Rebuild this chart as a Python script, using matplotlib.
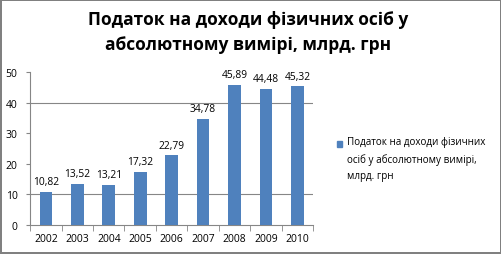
import matplotlib

matplotlib.use("Agg")
import matplotlib.pyplot as plt  # noqa: E402
import numpy as np  # noqa: E402
from matplotlib.patches import Rectangle  # noqa: E402

plt.rcParams["font.family"] = ["Open Sans", "DejaVu Sans"]

years = ["2002", "2003", "2004", "2005", "2006", "2007", "2008", "2009", "2010"]
values = [10.82, 13.52, 13.21, 17.32, 22.79, 34.78, 45.89, 44.48, 45.32]
value_labels = ["10,82", "13,52", "13,21", "17,32", "22,79", "34,78", "45,89", "44,48", "45,32"]
grid_values = [10, 40]
title = "Податок на доходи фізичних осіб у\nабсолютному вимірі, млрд. грн"
series_name = "Податок на доходи фізичних\nосіб у абсолютному вимірі,\nмлрд. грн"

BAR = "#4F81BD"
GRAY = "#868686"

fig = plt.figure(figsize=(5.02, 2.55), dpi=100)
fig.patch.set_edgecolor("#808080")
fig.patch.set_linewidth(1.5)

ax = fig.add_axes([0.06, 0.114, 0.564, 0.6])
x = np.arange(len(years))
ax.bar(x, values, width=0.4, color=BAR, zorder=3)
for xi, v, lab in zip(x, values, value_labels):
    ax.text(xi, v + 1.5, lab, ha="center", va="bottom", fontsize=7.4, color="#000000")

for g in grid_values:
    ax.axhline(g, color=GRAY, linewidth=0.8, zorder=1)

ax.set_xlim(-0.5, len(years) - 0.5)
ax.set_ylim(0, 50)
ax.set_yticks(range(0, 51, 10))
ax.set_xticks(x)
ax.set_xticklabels(years)
ax.set_xticks(np.arange(-0.5, len(years), 1), minor=True)
ax.tick_params(axis="x", which="major", length=0, labelsize=7.5, pad=6)
ax.tick_params(axis="x", which="minor", length=4, color=GRAY)
ax.tick_params(axis="y", length=3, color=GRAY, labelsize=7.5, pad=6)
for side in ("top", "right"):
    ax.spines[side].set_visible(False)
for side in ("left", "bottom"):
    ax.spines[side].set_color(GRAY)
    ax.spines[side].set_linewidth(0.8)

fig.text(0.495, 0.872, title, ha="center", va="center", fontsize=12.5,
         fontweight="bold", linespacing=1.5)

# legend drawn by hand so the key sits on the first text line
fig.patches.append(Rectangle((0.671, 0.42), 0.011, 0.022, color=BAR,
                             transform=fig.transFigure, figure=fig))
fig.text(0.692, 0.462, series_name, ha="left", va="top", fontsize=7.1,
         linespacing=1.65)

fig.savefig("out.png", dpi=100)
